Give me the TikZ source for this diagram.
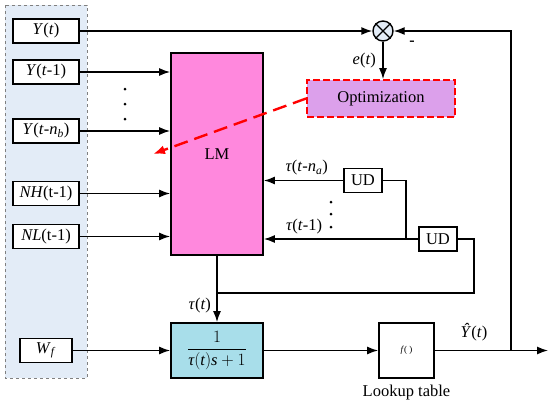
\documentclass[tikz,border=0pt]{standalone}
\usepackage{fontspec}
\setmainfont{Liberation Serif}
\usetikzlibrary{arrows.meta}
\definecolor{panelblue}{RGB}{227,236,247}
\definecolor{lmpink}{RGB}{255,136,221}
\definecolor{optviolet}{RGB}{220,160,235}
\definecolor{tfcyan}{RGB}{168,222,234}
\begin{document}
\begin{tikzpicture}[x=1pt,y=-1pt,
		font=\fontsize{16.5}{19}\selectfont,
		inbox/.style={draw,line width=1.8pt,fill=white,minimum width=66pt,minimum height=24pt,inner sep=0pt},
		udbox/.style={draw,line width=1.5pt,fill=white,minimum width=38pt,minimum height=24pt,inner sep=0pt},
		sig/.style={line width=1.4pt,-{Latex[length=11pt,width=8pt]}},
		wire/.style={line width=1.4pt}
	]
	\useasboundingbox (0,0) rectangle (550,405);
	% input panel
	\draw[dashed,gray,fill=panelblue] (5,5) rectangle (87,378);
	\node[inbox] (y0) at (46,31) {\textit{Y}(\textit{t})};
	\node[inbox] (y1) at (46,72) {\textit{Y}(\textit{t}-1)};
	\node[inbox] (yn) at (46,131) {\textit{Y}(\textit{t}-\textit{n}\textsubscript{\textit{b}})};
	\node[inbox] (nh) at (46,193.5) {\textit{NH}(t-1)};
	\node[inbox] (nl) at (46,236.5) {\textit{NL}(t-1)};
	\node[inbox,minimum width=52pt] (wf) at (46,350.5) {\textit{W}\textsubscript{\textit{f}}};
	% blocks
	\node[draw,line width=1.8pt,fill=lmpink,minimum width=92pt,minimum height=202pt] (lm) at (217,154) {LM};
	\node[draw,line width=1.8pt,fill=tfcyan,minimum width=92pt,minimum height=55pt] (tf) at (217,350.5)
		{$\displaystyle\frac{1}{\textit{τ}(\textit{t})\textit{s}+1}$};
	\node[draw,line width=1.8pt,fill=white,minimum width=55pt,minimum height=55pt] (lut) at (406.5,350.5)
		{\fontsize{9}{10}\selectfont\textit{f}( )};
	\node (lutname) at (406.5,393) {Lookup table};
	\node[draw,circle,line width=1.4pt,fill=panelblue,minimum size=20pt,inner sep=0pt] (sum) at (383,31) {};
	\draw[line width=1.4pt] (sum.north west) -- (sum.south east) (sum.north east) -- (sum.south west);
	\node[draw=red,line width=1.8pt,dash pattern=on 7pt off 3pt,fill=optviolet,minimum width=148pt,minimum height=37pt] (opt) at (381,98.5) {Optimization};
	\node[udbox] (ud1) at (363,180.5) {UD};
	\node[udbox] (ud2) at (438,239) {UD};
	% coordinates
	\coordinate (lmhit) at (153,154);
	\coordinate (tbranch) at (217,293);
	\coordinate (udloop) at (474,293);
	\coordinate (udjoin) at (406,239);
	\coordinate (outjoin) at (511,350.5);
	\coordinate (yout) at (548,350.5);
	% inputs
	\draw[sig] (y0) -- (sum);
	\draw[sig] (y1) -- (y1 -| lm.west);
	\draw[sig] (yn) -- (yn -| lm.west);
	\draw[sig] (nh) -- (nh -| lm.west);
	\draw[sig] (nl) -- (nl -| lm.west);
	\draw[sig] (wf) -- (tf);
	\foreach \yy in {89,104,119} \fill (125,\yy) circle (1.5pt);
	% error and optimization
	\draw[sig] (sum) -- (sum |- opt.north) node[midway,left=3pt] {\textit{e}(\textit{t})};
	\draw[red,line width=2.4pt,dash pattern=on 14pt off 7pt,-{Latex[length=12pt,width=9pt]}] (opt.west) -- (lmhit);
	% delays
	\draw[sig] (ud1) -- (ud1 -| lm.east) node[pos=0.46,above=1pt] {\textit{τ}(\textit{t}-\textit{n}\textsubscript{\textit{a}})};
	\draw[sig] (ud2) -- (ud2 -| lm.east) node[pos=0.74,above=1pt] {\textit{τ}(\textit{t}-1)};
	\draw[wire] (ud1.east) -| (udjoin);
	\foreach \yy in {202,214,227} \fill (331,\yy) circle (1.5pt);
	\draw[sig] (lm) -- (tf) node[pos=0.75,left=2pt] {\textit{τ}(\textit{t})};
	\draw[wire] (tbranch) -- (udloop) |- (ud2.east);
	% output
	\draw[sig] (tf) -- (lut);
	\draw[sig] (lut) -- (yout);
	\node (yhat) at (474,332) {\textit{Ŷ}(\textit{t})};
	\draw[sig] (outjoin) |- (sum);
	\node[font=\fontsize{16}{19}\selectfont\bfseries] (minus) at (412,43) {-};
\end{tikzpicture}
\end{document}
